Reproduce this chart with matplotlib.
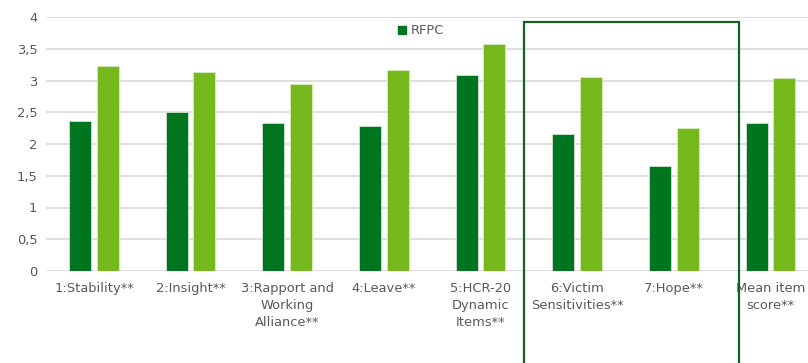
import matplotlib
matplotlib.use("Agg")
import matplotlib.pyplot as plt
from matplotlib.patches import Rectangle
from matplotlib.lines import Line2D
import numpy as np

categories = [
    "1:Stability**",
    "2:Insight**",
    "3:Rapport and\nWorking\nAlliance**",
    "4:Leave**",
    "5:HCR-20\nDynamic\nItems**",
    "6:Victim\nSensitivities**",
    "7:Hope**",
    "Mean item\nscore**",
]
rfpc = [2.36, 2.50, 2.33, 2.29, 3.09, 2.15, 1.65, 2.33]
comparison = [3.23, 3.13, 2.95, 3.16, 3.57, 3.05, 2.25, 3.04]
y_ticks = [0, 0.5, 1, 1.5, 2, 2.5, 3, 3.5, 4]
y_tick_labels = ["0", "0,5", "1", "1,5", "2", "2,5", "3", "3,5", "4"]

dark_green = "#00751F"
light_green = "#74B81C"
text_grey = "#595959"
grid_grey = "#D9D9D9"

plt.rcParams["font.family"] = ["DejaVu Sans"]

W, H = 808, 363
fig = plt.figure(figsize=(W / 100, H / 100), dpi=100)
fig.patch.set_facecolor("white")

# the plot area runs past the right edge of the figure
ax = fig.add_axes([45.7 / W, (H - 271) / H, 773.1 / W, 254 / H])

x = np.arange(len(categories))
bw = 0.228
off = 0.143
ax.bar(x - off, rfpc, bw, color=dark_green, edgecolor="#cfe6cf", linewidth=0.6,
       zorder=3, label="RFPC")
ax.bar(x + off, comparison, bw, color=light_green, edgecolor="#d8ecbf",
       linewidth=0.6, zorder=3)

ax.set_xlim(-0.5, len(categories) - 0.5)
ax.set_ylim(0, 4)
ax.set_yticks(y_ticks)
ax.set_yticklabels(y_tick_labels)
ax.yaxis.grid(True, color=grid_grey, linewidth=1.2, zorder=0)
ax.set_axisbelow(True)
for s in ax.spines.values():
    s.set_visible(False)
ax.tick_params(axis="y", length=0, pad=6, labelsize=9.4, labelcolor=text_grey)
ax.tick_params(axis="x", length=0, pad=0)
ax.set_xticks(x)
ax.set_xticklabels([])
for xi, lab in zip(x, categories):
    ax.annotate(lab, xy=(xi, 0), xycoords=("data", "axes fraction"),
                xytext=(0, -8), textcoords="offset points",
                ha="center", va="top", fontsize=9.4, color=text_grey,
                linespacing=1.38)

handle = Line2D([], [], marker="s", linestyle="none", markersize=5.5,
                markerfacecolor=dark_green, markeredgecolor=dark_green)
fig.legend([handle], ["RFPC"], loc="center left",
           bbox_to_anchor=(398 / W, 1 - 31 / H), frameon=False,
           fontsize=9.4, labelcolor=text_grey, handlelength=0.6,
           handletextpad=0.35, borderaxespad=0, borderpad=0)

# highlight box around items 6 and 7
fig.add_artist(Rectangle((524 / W, -0.05), (739 - 524) / W, 1.05 - 22 / H,
                         transform=fig.transFigure, fill=False,
                         edgecolor="#17601F", linewidth=1.6, zorder=10,
                         clip_on=False))

fig.savefig("out.png", dpi=100, facecolor="white")
